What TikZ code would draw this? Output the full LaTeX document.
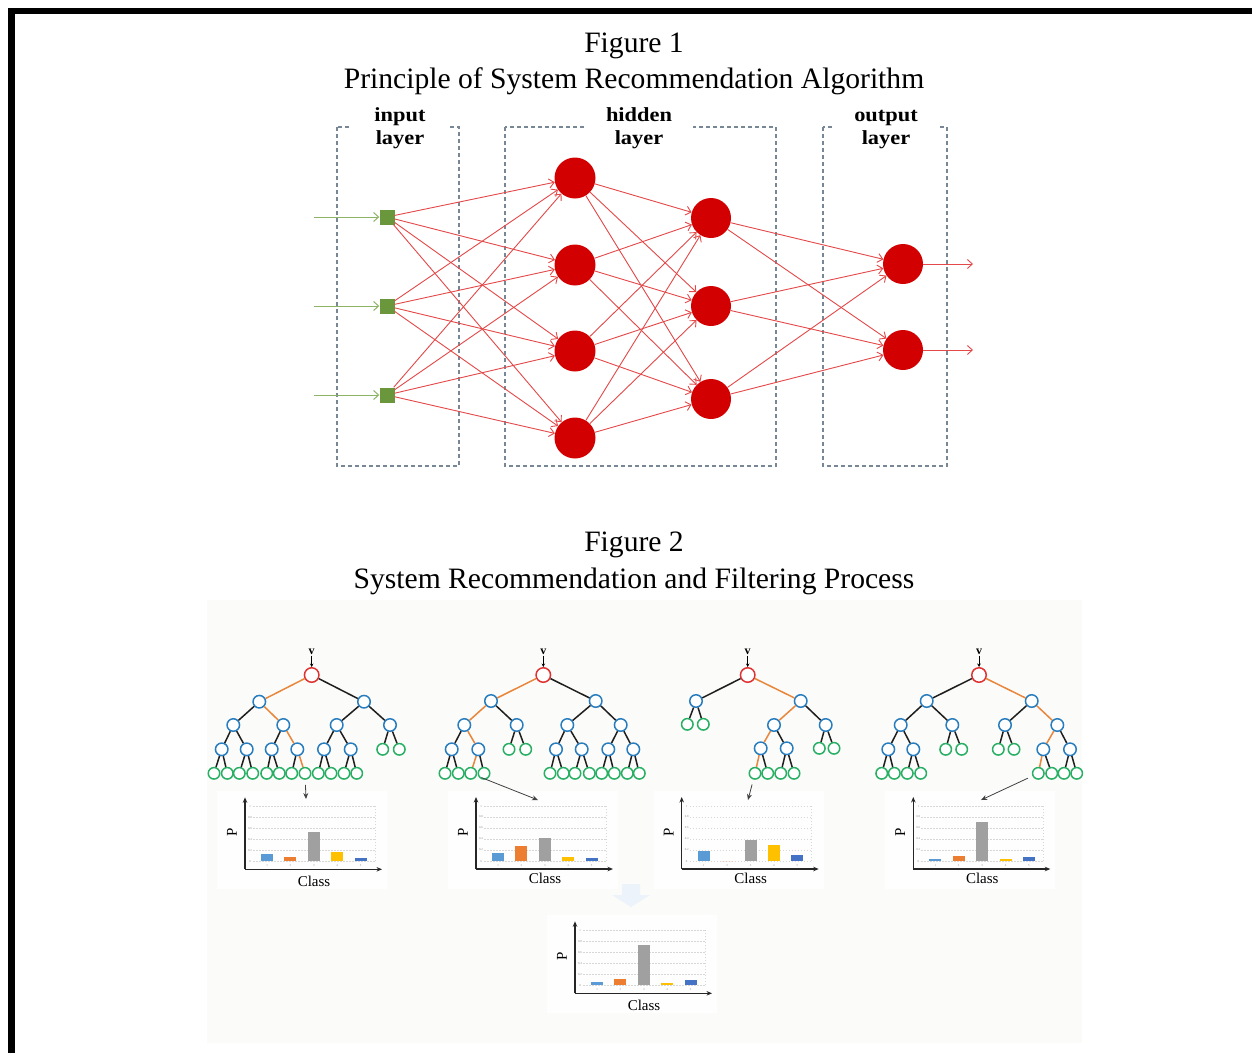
\documentclass[tikz,border=0pt]{standalone}
\usepackage{fontspec}
\setmainfont{Liberation Serif}
\usetikzlibrary{arrows.meta}

\definecolor{nnred}{RGB}{210,0,0}
\definecolor{wirered}{RGB}{228,72,72}
\definecolor{inpgreen}{RGB}{106,150,60}
\definecolor{feedgreen}{RGB}{140,180,100}
\definecolor{boxgray}{RGB}{120,135,150}
\definecolor{figbg}{RGB}{251,251,249}
\definecolor{rootred}{RGB}{224,50,50}
\definecolor{nodeblue}{RGB}{40,125,190}
\definecolor{leafgreen}{RGB}{40,175,100}
\definecolor{pathorange}{RGB}{232,135,60}
\definecolor{edgeblack}{RGB}{30,30,30}
\definecolor{barblue}{RGB}{91,155,213}
\definecolor{barorange}{RGB}{237,125,49}
\definecolor{bargray}{RGB}{160,160,160}
\definecolor{baryellow}{RGB}{255,192,0}
\definecolor{bardblue}{RGB}{68,114,196}
\definecolor{gridgray}{RGB}{215,215,215}
\definecolor{fadeblue}{RGB}{236,243,250}
\definecolor{panel}{RGB}{254,254,254}

\tikzset{
  title/.style={font=\fontsize{29.6}{35}\selectfont, inner sep=0pt, anchor=base},
  lyrtext/.style={font=\bfseries\fontsize{20}{24}\selectfont, inner sep=0pt, anchor=base},
  lyrgap/.style={fill=white, minimum height=6pt, inner sep=0pt},
  layerbox/.style={draw=boxgray, line width=1.1pt, dash pattern=on 4pt off 3pt},
  inp/.style={rectangle, fill=inpgreen, minimum size=15pt, inner sep=0pt},
  neuron/.style={circle, fill=nnred, minimum size=41pt, inner sep=0pt},
  wire/.style={draw=wirered, line width=0.9pt, -{Straight Barb[length=5pt,width=9pt]}},
  feed/.style={draw=feedgreen, line width=1pt, -{Straight Barb[length=5pt,width=9pt]}},
  troot/.style={circle, draw=rootred, fill=white, line width=1.5pt, minimum size=14.5pt, inner sep=0pt},
  tin/.style={circle, draw=nodeblue, fill=white, line width=1.5pt, minimum size=12.5pt, inner sep=0pt},
  tleaf/.style={circle, draw=leafgreen, fill=white, line width=1.5pt, minimum size=11.5pt, inner sep=0pt},
  tedge/.style={draw=edgeblack, line width=1.5pt},
  pedge/.style={draw=pathorange, line width=1.5pt},
  vlbl/.style={font=\bfseries\fontsize{12}{14}\selectfont, inner sep=0.5pt},
  vpoint/.style={draw=black, line width=0.8pt, -{Stealth[length=3.5pt,width=3.5pt]}},
  pointer/.style={draw=black!75, line width=0.8pt, shorten <=5pt, -{Stealth[length=6pt,width=5pt]}},
  axis/.style={draw=black!85, line width=1.3pt, -{Stealth[length=5.5pt,width=4.5pt]}},
  gridline/.style={draw=gridgray, line width=0.5pt, dash pattern=on 1.5pt off 1.5pt},
  axlbl/.style={font=\fontsize{15}{18}\selectfont, inner sep=0pt},
  ticklbl/.style={font=\fontsize{3}{3}\selectfont, text=black!45, inner sep=0pt}
}

% bar chart: id, origin x, origin y, five bar heights, y offset of the axis title
\newcommand{\barchart}[9]{%
  \begin{scope}[shift={(#2,#3)}]
    \fill[panel] (-28,-78) rectangle (142,20);
    \foreach \k in {0,...,5} {\draw[gridline] (8,-8-11*\k) -- (130,-8-11*\k);}
    \draw[gridline] (130,-8) -- (130,-63);
    \foreach \k/\t in {0/0,1/0.2,2/0.4,3/0.6,4/0.8,5/1} {\node[ticklbl] at (5,-8-11*\k) {\t};}
    \foreach \k in {1,...,5} {\node[ticklbl] at (-1.4+23.4*\k,-3.5) {\k};}
    \fill[barblue]   (16,-8)   rectangle ++(12,-#4);
    \fill[barorange] (39.4,-8) rectangle ++(12,-#5);
    \fill[bargray]   (62.8,-8) rectangle ++(12,-#6);
    \fill[baryellow] (86.2,-8) rectangle ++(12,-#7);
    \fill[bardblue]  (109.6,-8) rectangle ++(12,-#8);
    \coordinate (#1o) at (0,0);
    \coordinate (#1y) at (0,-72);
    \coordinate (#1x) at (137,0);
    \draw[axis] (#1o) -- (#1y);
    \draw[axis] (#1o) -- (#1x);
    \node[axlbl, rotate=90] (#1p) at (-13,-37) {P};
    \node[axlbl] (#1c) at (69,#9) {Class};
  \end{scope}}

\begin{document}
\begin{tikzpicture}[x=1pt,y=-1pt]
\useasboundingbox (0,0) rectangle (1252,1053);
\fill[white] (0,0) rectangle (1252,1053);

% page frame: top and left rules
\fill[black] (8,8) rectangle (1252,13.5);
\fill[black] (8,8) rectangle (15,1053);

% ---------- Figure 1 ----------
\node[title] (fig1) at (634,52) {Figure 1};
\node[title] (cap1) at (634,88) {Principle of System Recommendation Algorithm};

\draw[layerbox] (337,127) rectangle (459,466);
\draw[layerbox] (505,127) rectangle (776,466);
\draw[layerbox] (823,127) rectangle (947,466);

\node[lyrgap, minimum width=98pt] (gapin) at (400,127) {};
\node[lyrgap, minimum width=107pt] (gaphid) at (639,127) {};
\node[lyrgap, minimum width=104pt] (gapout) at (886,127) {};
\node[lyrtext] (lin1) at (400,121) {\scalebox{1.12}[1]{input}};
\node[lyrtext] (lin2) at (400,144) {\scalebox{1.12}[1]{layer}};
\node[lyrtext] (lhd1) at (639,121) {\scalebox{1.12}[1]{hidden}};
\node[lyrtext] (lhd2) at (639,144) {\scalebox{1.12}[1]{layer}};
\node[lyrtext] (lou1) at (886,121) {\scalebox{1.12}[1]{output}};
\node[lyrtext] (lou2) at (886,144) {\scalebox{1.12}[1]{layer}};

\node[inp] (i1) at (387,217) {};
\node[inp] (i2) at (387,306) {};
\node[inp] (i3) at (387,395) {};
\node[neuron] (h1) at (575,178) {};
\node[neuron] (h2) at (575,265) {};
\node[neuron] (h3) at (575,351) {};
\node[neuron] (h4) at (575,438) {};
\node[neuron, minimum size=40pt] (g1) at (711,218) {};
\node[neuron, minimum size=40pt] (g2) at (711,306) {};
\node[neuron, minimum size=40pt] (g3) at (711,399) {};
\node[neuron, minimum size=40pt] (o1) at (903,264) {};
\node[neuron, minimum size=40pt] (o2) at (903,350) {};

\coordinate (s1) at (314,217);
\coordinate (s2) at (314,306);
\coordinate (s3) at (314,395);
\coordinate (e1) at (973,264);
\coordinate (e2) at (973,350);

\foreach \a in {1,2,3} {\draw[feed] (s\a) -- (i\a);}
\foreach \a in {1,2,3} {\foreach \b in {1,...,4} {\draw[wire] (i\a) -- (h\b);}}
\foreach \a in {1,...,4} {\foreach \b in {1,2,3} {\draw[wire] (h\a) -- (g\b);}}
\foreach \a in {1,2,3} {\foreach \b in {1,2} {\draw[wire] (g\a) -- (o\b);}}
\foreach \b in {1,2} {\draw[wire] (o\b) -- (e\b);}

% ---------- Figure 2 ----------
\node[title] (fig2) at (634,551) {Figure 2};
\node[title] (cap2) at (634,588) {System Recommendation and Filtering Process};

\fill[figbg] (207,600) rectangle (1082,1043);

% decision trees
\node[troot] (A) at (311.7,675) {};
\node[troot] (B) at (543.3,675) {};
\node[troot] (C) at (747.7,675) {};
\node[troot] (D) at (979,675) {};

\foreach \n/\x/\y in {A1/259.3/701.7, A2/364/701.7, A11/233.3/725, A12/283.3/725, A21/336.7/725, A22/390/725,
  A111/221.7/749.3, A112/246.7/749.3, A121/271.7/749.3, A122/297.3/749.3, A211/324/749.3, A212/350.7/749.3,
  B1/491/701, B2/595.7/701, B11/464.3/725, B12/516.7/725, B21/567.3/725, B22/620.7/725,
  B111/451.7/749.3, B112/478.3/749.3, B211/556/749.3, B212/581.7/749.3, B221/608.3/749.3, B222/633.3/749.3,
  C1/696/701, C2/800.7/701, C21/774/725, C22/825.7/725, C211/760.7/748.3, C212/786.7/748.3,
  D1/926.7/701, D2/1031.7/701, D11/900.7/725, D12/952.3/725, D21/1005/725, D22/1057.3/725,
  D111/888.3/749.3, D112/913.3/749.3, D221/1043.3/749.3, D222/1070/749.3}
  {\node[tin] (\n) at (\x,\y) {};}

\foreach \n/\x/\y in {A221/382.7/749.3, A222/399.3/749.3, A1111/214/773.3, A1112/227.3/773.3, A1121/239.3/773.3,
  A1122/252.7/773.3, A1211/266.7/773.3, A1212/279.3/773.3, A1221/291.7/773.3, A1222/305/773.3, A2111/318.3/773.3,
  A2112/331/773.3, A2121/344/773.3, A2122/356.7/773.3,
  B121/509/749.3, B122/525.7/749.3, B1111/445/773.3, B1112/458.3/773.3, B1121/470.7/773.3, B1122/484/773.3,
  B2111/550/773.3, B2112/563.3/773.3, B2121/575/773.3, B2122/589.3/773.3, B2211/601.7/773.3, B2212/614.3/773.3,
  B2221/627.3/773.3, B2222/639.3/773.3,
  C11/687.3/724.3, C12/703.3/724.3, C221/819.3/748.3, C222/834/748.3, C2111/755/773.3, C2112/767.7/773.3,
  C2121/780.7/773.3, C2122/794/773.3,
  D121/945.7/749.3, D122/961.7/749.3, D211/998.3/749.3, D212/1014/749.3, D1111/881.7/773.3, D1112/894.3/773.3,
  D1121/907.3/773.3, D1122/920.7/773.3, D2211/1038.3/773.3, D2212/1051.7/773.3, D2221/1064/773.3, D2222/1076.7/773.3}
  {\node[tleaf] (\n) at (\x,\y) {};}

\foreach \p/\c in {A/A2, A1/A11, A2/A21, A2/A22, A11/A111, A11/A112, A12/A121, A21/A211, A21/A212, A22/A221,
  A22/A222, A111/A1111, A111/A1112, A112/A1121, A112/A1122, A121/A1211, A121/A1212, A122/A1221, A211/A2111,
  A211/A2112, A212/A2121, A212/A2122,
  B/B2, B1/B12, B2/B21, B2/B22, B11/B111, B12/B121, B12/B122, B21/B211, B21/B212, B22/B221, B22/B222,
  B111/B1111, B111/B1112, B112/B1122, B211/B2111, B211/B2112, B212/B2121, B212/B2122, B221/B2211, B221/B2212,
  B222/B2221, B222/B2222,
  C/C1, C1/C11, C1/C12, C2/C22, C21/C212, C22/C221, C22/C222, C211/C2112, C212/C2121, C212/C2122,
  D/D1, D1/D11, D1/D12, D2/D21, D11/D111, D11/D112, D12/D121, D12/D122, D21/D211, D21/D212, D22/D222,
  D111/D1111, D111/D1112, D112/D1121, D112/D1122, D221/D2212, D222/D2221, D222/D2222}
  {\draw[tedge] (\p) -- (\c);}

\foreach \p/\c in {A/A1, A1/A12, A12/A122, A122/A1222, B/B1, B1/B11, B11/B112, B112/B1121,
  C/C2, C2/C21, C21/C211, C211/C2111, D/D2, D2/D22, D22/D221, D221/D2211}
  {\draw[pedge] (\p) -- (\c);}

% input marks above the roots
\foreach \r/\x in {A/311.7, B/543.3, C/747.7, D/979} {
  \node[vlbl] (v\r) at (\x,652) {v};
  \draw[vpoint] (v\r) -- (\r);
}

% class-probability charts
\barchart{ka}{245}{869.3}{7}{4.3}{29}{9.6}{3.3}{12.4}
\barchart{kb}{476}{869}{8}{15.3}{22.6}{4}{2.6}{9.3}
\barchart{kc}{681.7}{869}{10}{0}{21.3}{16.3}{6}{9.3}
\barchart{kd}{913.3}{869}{2.3}{5.3}{39.3}{2.3}{4}{9.3}

% faint merge arrow
\fill[fadeblue] (622,884) -- (640,884) -- (640,895) -- (650,895) -- (631,907) -- (612,895) -- (622,895) -- cycle;

\barchart{ke}{575}{993.3}{3.3}{6}{40}{2.7}{5}{11.7}

% leaf-to-chart pointers
\coordinate (tA) at (306,799);
\coordinate (tB) at (538,800);
\coordinate (tC) at (748,800);
\coordinate (tD) at (981,800);
\draw[pointer] (A1222) -- (tA);
\draw[pointer] (B1121) -- (tB);
\draw[pointer] (C2111) -- (tC);
\draw[pointer] (D2211) -- (tD);
\end{tikzpicture}
\end{document}
